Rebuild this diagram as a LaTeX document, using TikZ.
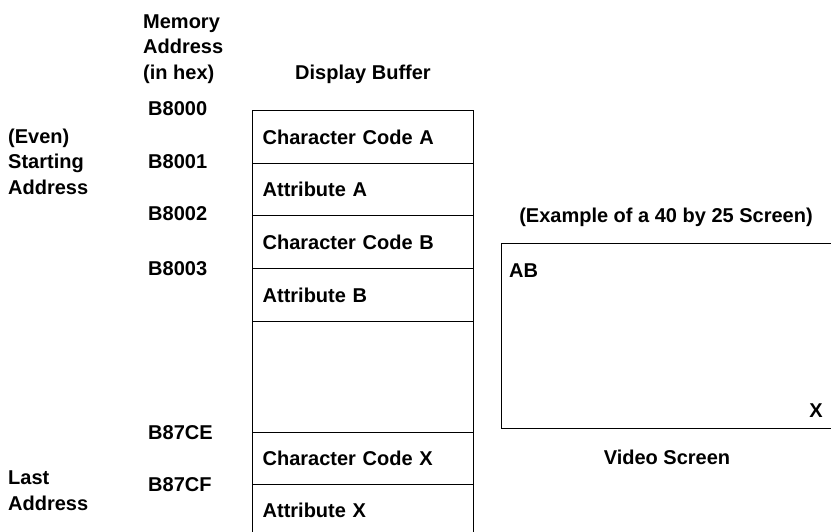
\documentclass[tikz,border=0pt]{standalone}
\usepackage{fontspec}
\setmainfont{Liberation Sans}
\begin{document}
\begin{tikzpicture}[x=1pt,y=-1pt,
  every node/.style={font=\fontsize{20}{25.5}\selectfont\bfseries,inner sep=0pt},
  cell/.style={draw,line width=1.3pt,anchor=north west,minimum width=221pt,text width=201pt,inner xsep=10pt,align=left},
  lbl/.style={anchor=base west,align=left}]
\clip (0,0) rectangle (831,531);
% column headings (base = last line)
\node[lbl] (memhead) at (143,79) {Memory\\Address\\(in hex)};
\node[anchor=base] (bufhead) at (363,79) {Display Buffer};
% addresses
\node[lbl] (aB8000) at (148,115) {B8000};
\node[lbl] (aB8001) at (148,168) {B8001};
\node[lbl] (aB8002) at (148,220) {B8002};
\node[lbl] (aB8003) at (148,275) {B8003};
\node[lbl] (aB87CE) at (148,439) {B87CE};
\node[lbl] (aB87CF) at (148,491) {B87CF};
\node[lbl] (startlbl) at (8,194) {(Even)\\Starting\\Address};
\node[lbl] (lastlbl) at (8,510) {Last\\Address};
% display buffer
\node[cell,minimum height=53pt] (ccA) at (252,110) {Character Code A};
\node[cell,minimum height=52pt] (attA) at (252,163) {Attribute A};
\node[cell,minimum height=53pt] (ccB) at (252,215) {Character Code B};
\node[cell,minimum height=53pt] (attB) at (252,268) {Attribute B};
\node[cell,minimum height=111pt] (gap) at (252,321) {};
\node[cell,minimum height=52pt] (ccX) at (252,432) {Character Code X};
\node[cell,minimum height=52pt] (attX) at (252,484) {Attribute X};
% video screen
\node[anchor=base] (scrhead) at (666,222) {(Example of a 40 by 25 Screen)};
\node[draw,line width=1.3pt,anchor=north west,minimum width=400pt,minimum height=185pt] (screen) at (501,243) {};
\node[anchor=base west] (chAB) at (509,277) {AB};
\node[anchor=base] (chX) at (816,417) {X};
\node[anchor=base] (scrlbl) at (667,464) {Video Screen};
\end{tikzpicture}
\end{document}
